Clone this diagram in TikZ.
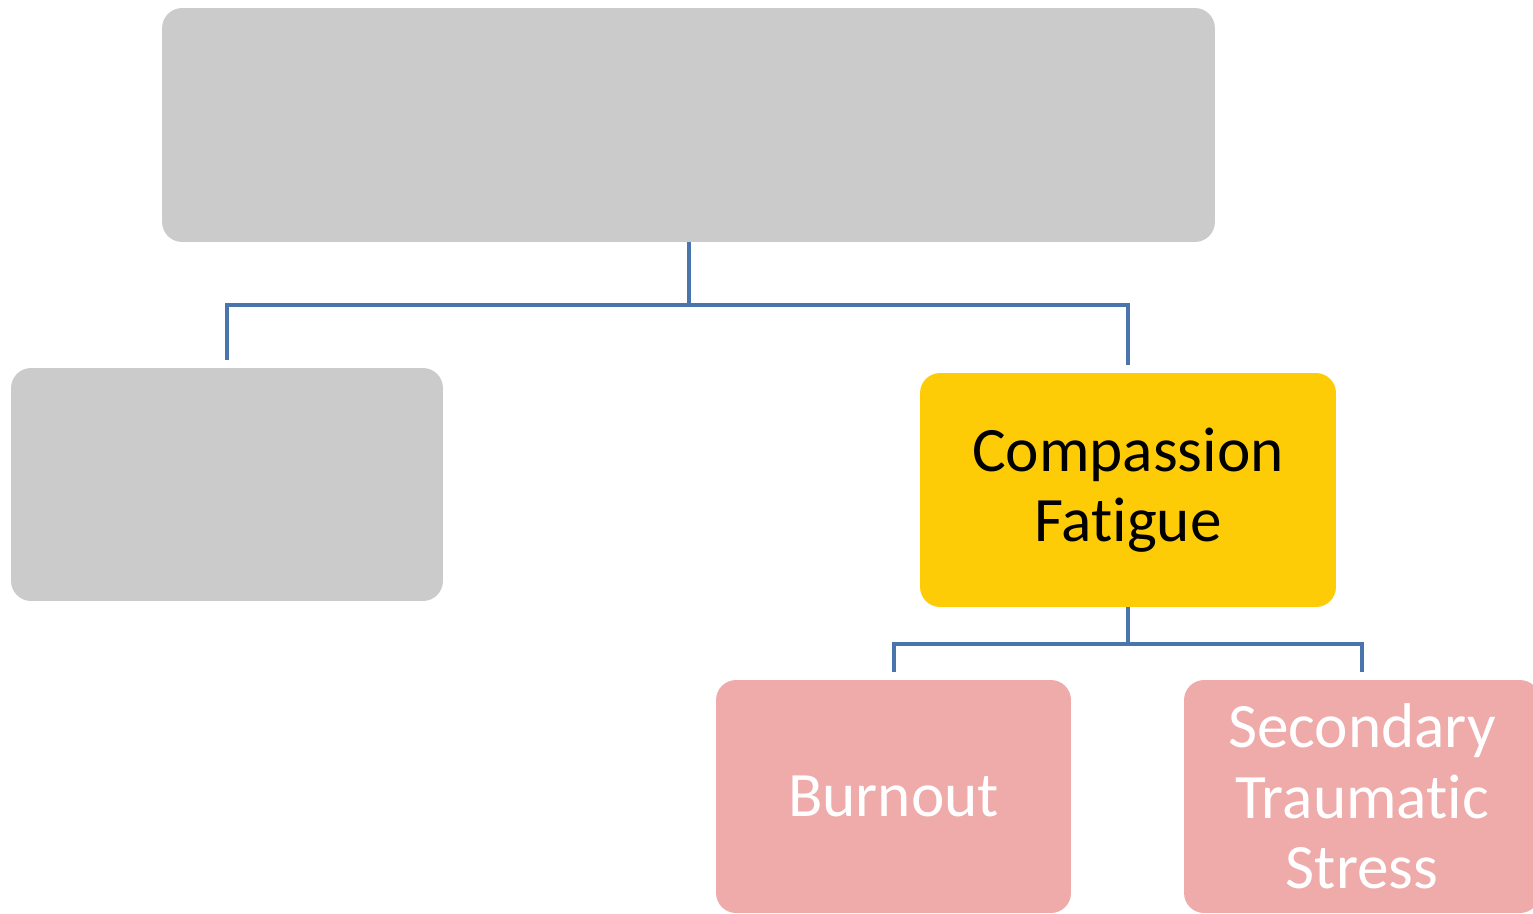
\documentclass[tikz,border=0pt]{standalone}
\usepackage{fontspec}
\setmainfont{Carlito}[Ligatures={NoCommon}]
\usepackage{xcolor}
\usepackage{tikz}
\usetikzlibrary{positioning}

\definecolor{boxgray}{HTML}{CBCBCB}
\definecolor{cfyellow}{HTML}{FECC07}
\definecolor{subpink}{HTML}{EFAAAA}
\definecolor{linkblue}{HTML}{4A74AC}

\begin{document}
\begin{tikzpicture}[
    x=0.02cm, y=-0.02cm,
    box/.style={rectangle, rounded corners=0.4cm, inner sep=0pt, align=center, font=\fontsize{36}{40}\selectfont},
    blank/.style={box, fill=boxgray},
    cfbox/.style={box, fill=cfyellow, text=black, minimum width=8.32cm, minimum height=4.68cm},
    subbox/.style={box, fill=subpink, text=white, minimum width=7.1cm, minimum height=4.66cm},
    link/.style={draw=linkblue, line width=0.08cm, shorten >=0.16cm}
]
\useasboundingbox (0,0) rectangle (1533,913);

\node[blank, minimum width=21.06cm, minimum height=4.68cm] (top) at (688.5,125) {};
\node[blank, minimum width=8.64cm, minimum height=4.66cm] (left) at (227,484.5) {};
\node[cfbox] (cf) at (1128,490) {Compassion\\Fatigue};
\node[subbox] (burnout) at (893.5,796.5) {Burnout};
\node[subbox, minimum width=7.12cm] (sts) at (1362,796.5) {Secondary\\Traumatic\\Stress};

% tree links
\draw[link] (top.south) -- ++(0,63) -| (left.north);
\draw[link] (top.south) -- ++(0,63) -| (cf.north);
\draw[link] (cf.south) -- ++(0,37) -| (burnout.north);
\draw[link] (cf.south) -- ++(0,37) -| (sts.north);

\end{tikzpicture}
\end{document}
